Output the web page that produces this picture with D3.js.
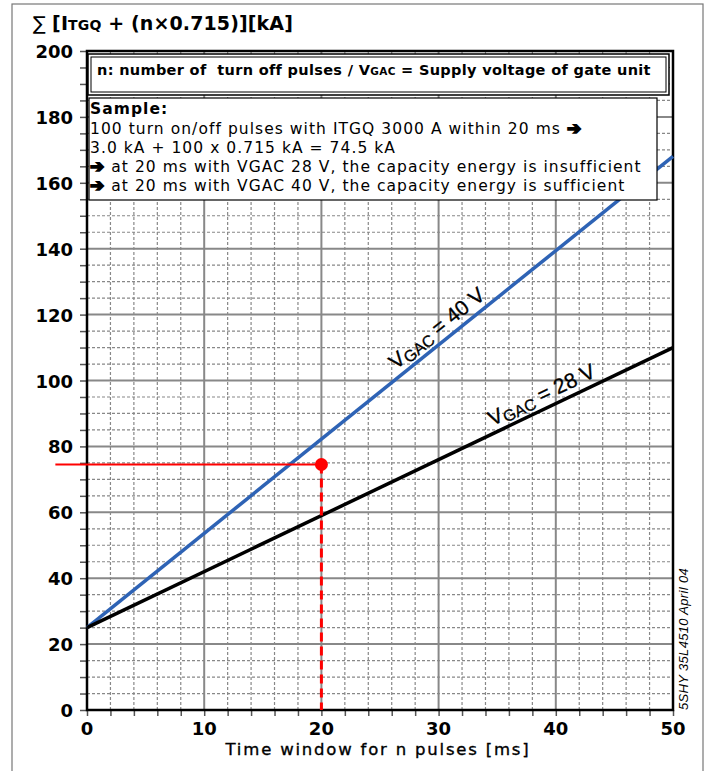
<!DOCTYPE html>
<html>
  <head>
    <meta charset="utf-8" />
    <script src="https://cdn.jsdelivr.net/npm/d3@7"></script>
    <style>
      body { margin: 0; background: #fff; }
      svg { display: block; }
      .tick-lbl { font-family: "DejaVu Sans", sans-serif; font-weight: bold; font-size: 18px; }
      .box-txt { font-family: "DejaVu Sans", sans-serif; font-size: 15.5px; }
      .arr { font-weight: bold; font-size: 17px; stroke: #000; stroke-width: 1.6px; }
    </style>
  </head>
  <body>
    <svg id="chart" width="711" height="771"></svg>
    <script>
      // data
      const xTicks = [0, 10, 20, 30, 40, 50];
      const yTicks = [0, 20, 40, 60, 80, 100, 120, 140, 160, 180, 200];
      const seriesNames = ["40 V", "28 V"];
      const line40 = [[0, 25], [50, 168]];
      const line28 = [[0, 25], [50, 110]];
      const samplePoint = [20, 74.5];
      // [leading arrow, text, trailing arrow]
      const sampleLines = [
        ["", "100 turn on/off pulses with ITGQ 3000 A within 20 ms ", "\u2794"],
        ["", "3.0 kA + 100 x 0.715 kA = 74.5 kA", ""],
        ["\u2794", " at 20 ms with VGAC 28 V, the capacity energy is insufficient", ""],
        ["\u2794", " at 20 ms with VGAC 40 V, the capacity energy is sufficient", ""]
      ];

      const svg = d3.select("#chart");
      const x = d3.scaleLinear().domain([0, 50]).range([87, 673]);
      const y = d3.scaleLinear().domain([0, 200]).range([710, 51]);

      // spread letters so a text spans the wanted width
      function fit(sel, w) {
        const n = sel.text().length;
        const cur = sel.node().getComputedTextLength();
        const ls = (w - cur) / n;
        sel.style("letter-spacing", ls + "px");
        return ls;
      }

      // outer frame
      svg.append("rect").attr("x", 12).attr("y", 4).attr("width", 691).attr("height", 780)
        .attr("fill", "none").attr("stroke", "#777").attr("stroke-width", 1.2);

      const g = svg.append("g");

      // minor grid
      g.selectAll(".vmin").data(d3.range(0, 51, 2).filter(v => v % 10 !== 0)).join("line")
        .attr("x1", d => x(d)).attr("x2", d => x(d)).attr("y1", y(0)).attr("y2", y(200))
        .attr("stroke", "#888").attr("stroke-width", 1.2).attr("stroke-dasharray", "3,2");
      g.selectAll(".hmin").data(d3.range(0, 201, 5).filter(v => v % 20 !== 0)).join("line")
        .attr("y1", d => y(d)).attr("y2", d => y(d)).attr("x1", x(0)).attr("x2", x(50))
        .attr("stroke", "#888").attr("stroke-width", 1.2).attr("stroke-dasharray", "3,2");
      // major grid
      g.selectAll(".vmaj").data(xTicks).join("line")
        .attr("x1", d => x(d)).attr("x2", d => x(d)).attr("y1", y(0)).attr("y2", y(200))
        .attr("stroke", "#888").attr("stroke-width", 2);
      g.selectAll(".hmaj").data(yTicks).join("line")
        .attr("y1", d => y(d)).attr("y2", d => y(d)).attr("x1", x(0)).attr("x2", x(50))
        .attr("stroke", "#888").attr("stroke-width", 2);

      // axes with outer ticks
      const xAxis = d3.axisBottom(x).tickValues(d3.range(0, 51, 2)).tickSize(6).tickFormat("");
      const yAxis = d3.axisLeft(y).tickValues(d3.range(0, 201, 5)).tickSize(7).tickFormat("");
      svg.append("g").attr("transform", `translate(0,${y(0)})`).call(xAxis)
        .call(s => s.select(".domain").remove())
        .selectAll("line").attr("stroke", "#555").attr("stroke-width", 1.5);
      svg.append("g").attr("transform", `translate(${x(0)},0)`).call(yAxis)
        .call(s => s.select(".domain").remove())
        .selectAll("line").attr("stroke", "#555").attr("stroke-width", 1.5);

      // plot frame
      svg.append("rect").attr("x", x(0)).attr("y", y(200)).attr("width", x(50) - x(0)).attr("height", y(0) - y(200))
        .attr("fill", "none").attr("stroke", "#000").attr("stroke-width", 2.5);

      // tick labels
      svg.selectAll(".xl").data(xTicks).join("text").attr("class", "tick-lbl")
        .attr("x", d => x(d)).attr("y", 735).attr("text-anchor", "middle").text(d => d);
      svg.selectAll(".yl").data(yTicks).join("text").attr("class", "tick-lbl")
        .attr("x", 73).attr("y", d => y(d) + 7).attr("text-anchor", "end").text(d => d);

      // series lines
      const line = d3.line().x(d => x(d[0])).y(d => y(d[1]));
      svg.append("path").datum(line40).attr("d", line).attr("stroke", "#2e63b5").attr("stroke-width", 3.5).attr("fill", "none");
      svg.append("path").datum(line28).attr("d", line).attr("stroke", "#000").attr("stroke-width", 3.5).attr("fill", "none");

      // series labels along lines
      function lineLabel(pts, at, off, name) {
        const [p0, p1] = pts;
        const ang = Math.atan2(y(p1[1]) - y(p0[1]), x(p1[0]) - x(p0[0])) * 180 / Math.PI;
        const vy = p0[1] + (p1[1] - p0[1]) * (at - p0[0]) / (p1[0] - p0[0]);
        const t = svg.append("text")
          .attr("transform", `translate(${x(at)},${y(vy)}) rotate(${ang}) translate(0,${off})`)
          .attr("font-family", "Liberation Sans, Arial, sans-serif").attr("font-size", 21).attr("text-anchor", "middle")
          .attr("stroke", "#000").attr("stroke-width", 0.3);
        t.append("tspan").text("V");
        t.append("tspan").attr("font-size", 16).attr("dy", 3).text("GAC");
        t.append("tspan").attr("dy", -3).text(" = " + name);
      }
      lineLabel(line40, 30.6, -7, seriesNames[0]);
      lineLabel(line28, 39.3, -7, seriesNames[1]);

      // sample marker
      svg.append("line").attr("x1", x(-2.7)).attr("x2", x(samplePoint[0])).attr("y1", y(samplePoint[1])).attr("y2", y(samplePoint[1]))
        .attr("stroke", "#ff0000").attr("stroke-width", 2);
      svg.append("line").attr("x1", x(samplePoint[0])).attr("x2", x(samplePoint[0])).attr("y1", y(samplePoint[1])).attr("y2", y(0))
        .attr("stroke", "#ff0000").attr("stroke-width", 3).attr("stroke-dasharray", "9,5");
      svg.append("circle").attr("cx", x(samplePoint[0])).attr("cy", y(samplePoint[1])).attr("r", 6.5).attr("fill", "#ff0000");

      // info box 1
      svg.append("rect").attr("x", 88).attr("y", 54).attr("width", 581).attr("height", 41)
        .attr("fill", "#fff").attr("stroke", "#000").attr("stroke-width", 1.5);
      svg.append("rect").attr("x", 91).attr("y", 57).attr("width", 575).attr("height", 35)
        .attr("fill", "none").attr("stroke", "#000").attr("stroke-width", 1);
      const t1 = svg.append("text").attr("class", "box-txt").attr("font-weight", "bold").attr("x", 97).attr("y", 75)
        .style("white-space", "pre").style("font-size", "14.5px");
      t1.append("tspan").text("n: number of  turn off pulses / V");
      t1.append("tspan").style("font-size", "10.5px").text("GAC");
      t1.append("tspan").text(" = Supply voltage of gate unit");
      fit(t1, 553);

      // info box 2
      svg.append("rect").attr("x", 89).attr("y", 98).attr("width", 568).attr("height", 102)
        .attr("fill", "#fff").attr("stroke", "#000").attr("stroke-width", 1.2);
      const sl = svg.selectAll(".sl").data(sampleLines).join("text").attr("class", "box-txt")
        .style("white-space", "pre")
        .attr("x", 90).attr("y", (d, i) => 134 + i * 19);
      sl.append("tspan").attr("class", "arr").text(d => d[0]);
      sl.append("tspan").text(d => d[1]);
      sl.append("tspan").attr("class", "arr").text(d => d[2]);
      const sls = fit(d3.select(sl.nodes()[0]), 492);
      sl.style("letter-spacing", sls + "px");
      svg.append("text").attr("class", "box-txt").attr("font-weight", "bold").style("letter-spacing", sls + "px")
        .attr("x", 90).attr("y", 114).text("Sample:");

      // title
      const tt = svg.append("text").attr("x", 33).attr("y", 30).attr("font-family", "DejaVu Sans, sans-serif")
        .attr("font-weight", "bold").style("font-size", "19px");
      tt.append("tspan").attr("font-weight", "normal").text("\u2211 ");
      tt.append("tspan").text("[I");
      tt.append("tspan").style("font-size", "14px").text("TGQ");
      tt.append("tspan").text(" + (n\u00d70.715)][kA]");
      fit(tt, 260);

      // x title
      const xt = svg.append("text").attr("x", 378).attr("y", 755).attr("text-anchor", "middle")
        .attr("font-family", "DejaVu Sans, sans-serif").style("font-size", "16.5px")
        .attr("stroke", "#000").attr("stroke-width", 0.35)
        .text("Time window for n pulses [ms]");
      fit(xt, 305);

      // side note
      const sn = svg.append("text").attr("transform", `translate(688,710) rotate(-90)`)
        .attr("font-family", "Liberation Sans, Arial, sans-serif").attr("font-style", "italic").style("font-size", "13px")
        .text("5SHY 35L4510 April 04");
      fit(sn, 142);
    </script>
  </body>
</html>
